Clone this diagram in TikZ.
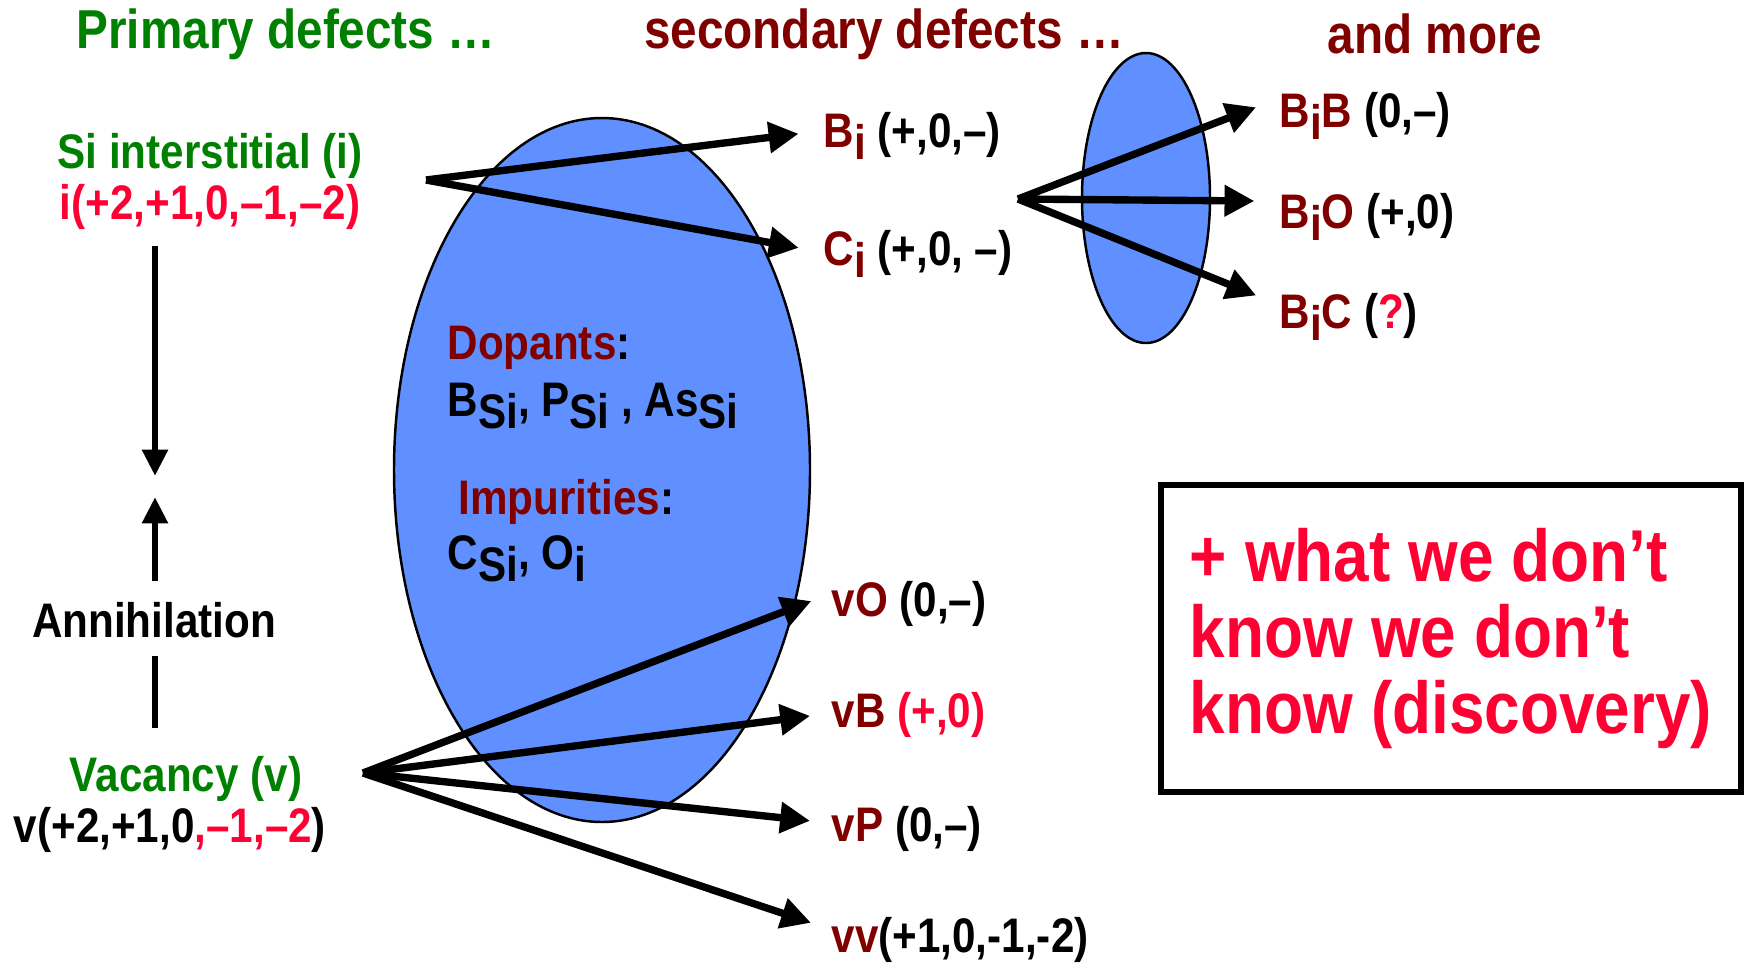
\documentclass[tikz,border=0pt]{standalone}
\usepackage{fontspec}
\setmainfont{Liberation Sans}[FakeStretch=0.87]
\usepackage{tikz}
\usetikzlibrary{arrows.meta,positioning,calc}
\usepackage{xcolor}
\definecolor{defgreen}{RGB}{0,128,0}
\definecolor{defbrown}{RGB}{128,0,0}
\definecolor{defred}{RGB}{255,0,51}
\definecolor{blobblue}{RGB}{96,143,255}
\newcommand{\lowr}[1]{\raisebox{-0.45ex}{#1}}

\begin{document}
\begin{tikzpicture}[
    lbl/.style={font=\fontsize{13.8}{16}\selectfont\bfseries, inner sep=0pt},
    ttl/.style={font=\fontsize{15.6}{18}\selectfont\bfseries, inner sep=0pt},
    fan/.style={-{Triangle[length=8.5pt,width=8.5pt]}, line width=2.1pt, shorten >=7pt},
    anni/.style={line width=1.9pt},
    blob/.style={draw=black, fill=blobblue, line width=0.7pt}]
    \useasboundingbox (0,0) rectangle (17.44,-9.69);

    % Titles
    \node[ttl, text=defgreen] (tprim) at (2.86,-0.34) {Primary defects …};
    \node[ttl, text=defbrown] (tsec) at (8.84,-0.34) {secondary defects …};
    \node[ttl, text=defbrown] (tmore) at (14.35,-0.34) {and more};

    % Blobs
    \draw[blob] (6.02,-4.70) ellipse (2.08 and 3.52);
    \draw[blob] (11.46,-1.98) ellipse (0.64 and 1.45);

    % Primary defects
    \node[lbl, text=defgreen] (isi) at (2.10,-1.56) {Si interstitial (i)};
    \node[lbl, text=defred] (iline) at (2.10,-2.07) {i(+2,+1,0,–1,–2)};
    \node[lbl] (anni) at (1.54,-6.20) {Annihilation};
    \node[lbl, text=defgreen] (vac) at (1.86,-7.79) {Vacancy (v)};
    \node[lbl] (vline) at (1.70,-8.30) {v(+2,+1,0\textcolor{defred}{,–1,–2})};

    \coordinate (dtip) at (1.55,-4.76);
    \coordinate (utip) at (1.55,-4.97);
    \draw[anni, -{Triangle[length=7.5pt,width=7pt]}, shorten <=4.5pt] (iline.south -| dtip) -- (dtip);
    \draw[anni, -{Triangle[length=7.5pt,width=7pt]}, shorten <=5.8pt] (anni.north -| utip) -- (utip);
    \draw[anni, shorten <=5pt, shorten >=8pt] (anni.south -| utip) -- (vac.north -| utip);

    % Dopants and impurities
    \node[lbl, anchor=west] (dop) at (4.47,-3.48) {\textcolor{defbrown}{Dopants}:};
    \node[lbl, anchor=west] (dopl) at (4.47,-4.06) {B\lowr{Si}, P\lowr{Si} , As\lowr{Si}};
    \node[lbl, anchor=west] (imp) at (4.58,-5.02) {\textcolor{defbrown}{Impurities}:};
    \node[lbl, anchor=west] (impl) at (4.47,-5.59) {C\lowr{Si}, O\lowr{i}};

    % Secondary defects
    \node[lbl, anchor=west] (bi) at (8.23,-1.36) {\textcolor{defbrown}{B\lowr{i}} (+,0,–)};
    \node[lbl, anchor=west] (ci) at (8.23,-2.54) {\textcolor{defbrown}{C\lowr{i}} (+,0, –)};
    \node[lbl, anchor=west] (vo) at (8.31,-6.04) {\textcolor{defbrown}{vO} (0,–)};
    \node[lbl, anchor=west] (vb) at (8.31,-7.15) {\textcolor{defbrown}{vB} \textcolor{defred}{(+,0)}};
    \node[lbl, anchor=west] (vp) at (8.31,-8.29) {\textcolor{defbrown}{vP} (0,–)};
    \node[lbl, anchor=west] (vv) at (8.31,-9.40) {\textcolor{defbrown}{vv}(+1,0,-1,-2)};

    % And more
    \node[lbl, anchor=west] (bib) at (12.79,-1.16) {\textcolor{defbrown}{B\lowr{i}B} (0,–)};
    \node[lbl, anchor=west] (bio) at (12.79,-2.17) {\textcolor{defbrown}{B\lowr{i}O} (+,0)};
    \node[lbl, anchor=west] (bic) at (12.79,-3.17) {\textcolor{defbrown}{B\lowr{i}C} (\textcolor{defred}{?})};

    % Fans
    \coordinate (ifan) at (4.26,-1.80);
    \draw[fan] (ifan) -- ([yshift=1.5pt]bi.west);
    \draw[fan] (ifan) -- ([yshift=0.5pt]ci.west);

    \coordinate (bfan) at (10.18,-1.99);
    \draw[fan] (bfan) -- ([yshift=5pt]bib.west);
    \draw[fan] (bfan) -- ([yshift=4.5pt]bio.west);
    \draw[fan] (bfan) -- ([yshift=3.5pt]bic.west);

    \coordinate (vfan) at (3.63,-7.73);
    \draw[fan, shorten >=6pt] (vfan) -- ([yshift=3pt]vo.west);
    \draw[fan, shorten >=6pt] (vfan) -- ([yshift=0.5pt]vb.west);
    \draw[fan, shorten >=6pt] (vfan) -- ([yshift=1.7pt]vp.west);
    \draw[fan, shorten >=6pt] (vfan) -- ([yshift=3pt]vv.west);

    % Unknown unknowns
    \node[draw, line width=1.8pt, minimum width=5.80cm, minimum height=3.07cm, align=left,
        font=\fontsize{20.9}{21.6}\selectfont\bfseries, text=defred] (unknown) at (14.51,-6.385)
        {+ what we don’t\\know we don’t\\know (discovery)};
\end{tikzpicture}
\end{document}
